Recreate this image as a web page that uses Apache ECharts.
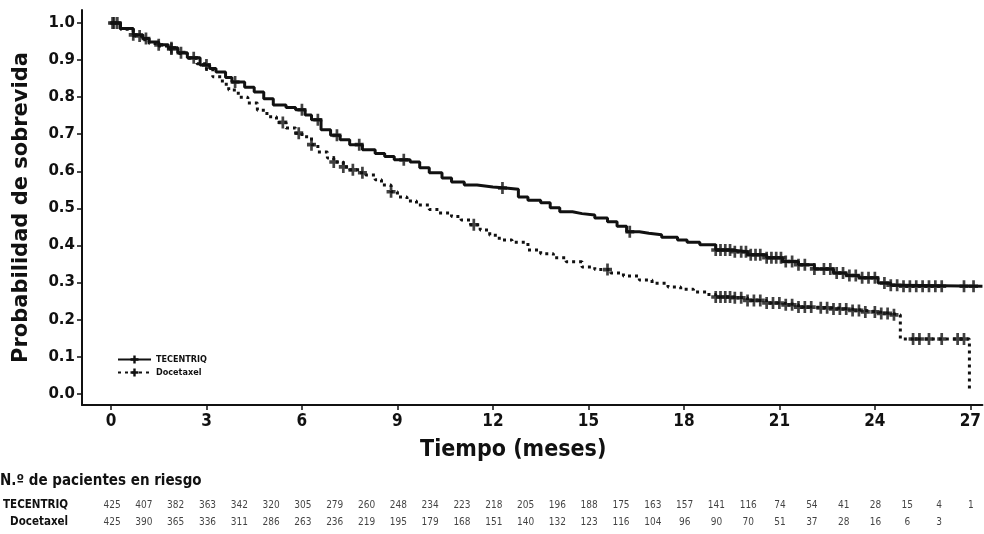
<!DOCTYPE html>
<html>
<head>
<meta charset="utf-8">
<script src="https://cdn.jsdelivr.net/npm/echarts@6/dist/echarts.min.js"></script>
<style>
  html, body { margin: 0; padding: 0; background: #fff; }
  #chart { width: 984px; height: 534px; }
</style>
</head>
<body>
<div id="chart"></div>
<script>
const xTicks = [0, 3, 6, 9, 12, 15, 18, 21, 24, 27];
const yTicks = [0, 0.1, 0.2, 0.3, 0.4, 0.5, 0.6, 0.7, 0.8, 0.9, 1.0];

// Kaplan-Meier curves (months, survival)
const tecTime = [0, 0.3, 0.7, 1.0, 1.2, 1.5, 1.8, 2.1, 2.4, 2.8, 3.1, 3.3, 3.6, 3.8, 4.2, 4.5, 4.8, 5.1, 5.5, 5.8,
    6.1, 6.3, 6.6, 6.9, 7.2, 7.5, 7.9, 8.3, 8.6, 8.9, 9.4, 9.7, 10.0, 10.4, 10.7, 11.1, 11.5, 12.0, 12.4, 12.8,
    13.1, 13.5, 13.8, 14.1, 14.5, 14.8, 15.2, 15.6, 15.9, 16.2, 16.6, 16.9, 17.3, 17.8, 18.1, 18.5, 19.0, 19.5, 20.0, 20.6,
    21.1, 21.6, 22.1, 22.7, 23.1, 23.5, 24.1, 24.5, 24.8, 27.38];
const tecSurv = [1.0, 0.985, 0.968, 0.958, 0.949, 0.941, 0.933, 0.92, 0.906, 0.887, 0.877, 0.868, 0.853, 0.841, 0.827, 0.814, 0.796, 0.779, 0.772, 0.766,
    0.752, 0.739, 0.712, 0.697, 0.685, 0.672, 0.658, 0.648, 0.64, 0.631, 0.625, 0.61, 0.596, 0.582, 0.571, 0.563, 0.558, 0.555, 0.552, 0.531,
    0.522, 0.515, 0.502, 0.491, 0.486, 0.482, 0.474, 0.464, 0.452, 0.437, 0.433, 0.429, 0.422, 0.415, 0.409, 0.402, 0.388, 0.383, 0.375, 0.367,
    0.357, 0.348, 0.337, 0.326, 0.319, 0.313, 0.299, 0.293, 0.29, 0.29];

const doceTime = [0, 0.3, 0.7, 1.0, 1.2, 1.5, 1.8, 2.1, 2.4, 2.7, 3.0, 3.2, 3.5, 3.7, 4.0, 4.3, 4.6, 4.9, 5.2, 5.5,
    5.8, 6.0, 6.3, 6.5, 6.8, 7.0, 7.3, 7.5, 7.8, 8.0, 8.3, 8.5, 8.8, 9.0, 9.3, 9.6, 10.0, 10.3, 10.7, 11.0,
    11.3, 11.6, 11.9, 12.2, 12.6, 13.1, 13.5, 13.9, 14.3, 14.8, 15.2, 15.7, 16.1, 16.6, 17.0, 17.5, 17.9, 18.3, 18.7, 19.0,
    19.5, 20.0, 20.6, 21.1, 21.6, 22.1, 22.7, 23.2, 23.7, 24.1, 24.5, 24.8, 26.97];
const doceSurv = [1.0, 0.983, 0.965, 0.955, 0.945, 0.938, 0.93, 0.918, 0.905, 0.89, 0.875, 0.855, 0.835, 0.819, 0.8, 0.784, 0.765, 0.747, 0.732, 0.717,
    0.703, 0.693, 0.672, 0.652, 0.636, 0.625, 0.612, 0.604, 0.596, 0.59, 0.577, 0.563, 0.545, 0.531, 0.52, 0.509, 0.497, 0.488, 0.478, 0.469,
    0.456, 0.442, 0.428, 0.415, 0.409, 0.388, 0.378, 0.367, 0.356, 0.342, 0.335, 0.326, 0.318, 0.307, 0.298, 0.288, 0.282, 0.275, 0.268, 0.261,
    0.259, 0.252, 0.245, 0.24, 0.234, 0.232, 0.229, 0.225, 0.221, 0.217, 0.213, 0.148, 0.01];

// censoring times (marks sit on the curve)
const tecCensor = [0.05, 0.2, 0.7, 1.1, 1.5, 1.9, 2.2, 2.6, 3.0, 3.9, 6.0, 6.5, 7.1, 7.8, 9.2, 12.3, 16.3,
    19.0, 19.15, 19.3, 19.45, 19.6, 19.8, 19.95, 20.1, 20.25, 20.4, 20.6, 20.75, 20.9, 21.05, 21.2, 21.4, 21.6, 21.8,
    22.1, 22.4, 22.6, 22.8, 23.0, 23.2, 23.4, 23.6, 23.8, 24.0, 24.3, 24.5, 24.7, 24.9, 25.1, 25.3, 25.5, 25.7, 25.9, 26.1, 26.8, 27.1];
const doceCensor = [0.1, 0.9, 1.9, 5.4, 5.9, 6.3, 7.0, 7.3, 7.6, 7.9, 8.8, 11.4, 15.6,
    19.0, 19.15, 19.3, 19.45, 19.6, 19.8, 20.0, 20.2, 20.4, 20.6, 20.8, 21.0, 21.2, 21.4, 21.6, 21.8, 22.0, 22.3,
    22.5, 22.7, 22.9, 23.1, 23.3, 23.5, 23.7, 24.0, 24.2, 24.4, 24.6, 25.2, 25.4, 25.7, 26.1, 26.6, 26.8];

// numbers at risk, month 0..27
const riskMonths = [0, 1, 2, 3, 4, 5, 6, 7, 8, 9, 10, 11, 12, 13, 14, 15, 16, 17, 18, 19, 20, 21, 22, 23, 24, 25, 26, 27];
const tecRisk = [425, 407, 382, 363, 342, 320, 305, 279, 260, 248, 234, 223, 218, 205, 196, 188, 175, 163, 157, 141, 116, 74, 54, 41, 28, 15, 4, 1];
const doceRisk = [425, 390, 365, 336, 311, 286, 263, 236, 219, 195, 179, 168, 151, 140, 132, 123, 116, 104, 96, 90, 70, 51, 37, 28, 16, 6, 3];

const PLUS = "path://M3.5,0H6.5V3.5H10V6.5H6.5V10H3.5V6.5H0V3.5H3.5Z";
const FONT = "'DejaVu Sans', 'Liberation Sans', sans-serif";
const COND = "'DejaVu Sans Condensed', 'Liberation Sans', sans-serif";

function survAt(times, surv, t) {
    let v = surv[0];
    for (let i = 0; i < times.length; i++) {
        if (times[i] <= t) v = surv[i];
    }
    return v;
}

function pairs(times, values) {
    return times.map((t, i) => [t, values[i]]);
}

function censorPoints(times, surv, censor) {
    return censor.map(t => [t, survAt(times, surv, t)]);
}

function riskPoints(row, values) {
    return values.map((n, i) => [riskMonths[i], row, n]);
}

const chart = echarts.init(document.getElementById("chart"));

chart.setOption({
    backgroundColor: "#fff",
    animation: false,
    title: {
        text: "N.º de pacientes en riesgo",
        left: 0,
        top: 474,
        padding: 0,
        textStyle: { fontFamily: COND, fontSize: 15, fontWeight: "bold", color: "#111" }
    },
    legend: {
        data: ["TECENTRIQ", "Docetaxel"],
        orient: "vertical",
        left: 117,
        top: 355,
        padding: 0,
        itemWidth: 33,
        itemHeight: 10,
        itemGap: 4,
        textStyle: { fontFamily: COND, fontSize: 9, fontWeight: "bold", color: "#111" }
    },
    grid: [
        { left: 82, right: 1, top: 10, bottom: 129 },
        { left: 82, right: 1, top: 497, height: 34 }
    ],
    xAxis: [
        {
            type: "value",
            min: -0.91,
            max: 27.38,
            splitLine: { show: false },
            axisLine: { onZero: false, lineStyle: { color: "#111", width: 2 } },
            axisTick: { customValues: xTicks, length: 5, lineStyle: { color: "#111", width: 1.5 } },
            axisLabel: {
                customValues: xTicks,
                margin: 8,
                fontFamily: COND,
                fontSize: 17,
                fontWeight: "bold",
                color: "#111"
            },
            name: "Tiempo (meses)",
            nameLocation: "middle",
            nameGap: 34,
            nameTextStyle: {
                fontFamily: COND,
                fontSize: 23,
                fontWeight: "bold",
                color: "#111",
                padding: [0, 38, 0, 0]
            }
        },
        {
            type: "value",
            gridIndex: 1,
            min: -0.91,
            max: 27.38,
            show: false
        }
    ],
    yAxis: [
        {
            type: "value",
            min: -0.03,
            max: 1.035,
            splitLine: { show: false },
            axisLine: { show: true, onZero: false, lineStyle: { color: "#111", width: 2 } },
            axisTick: { show: true, customValues: yTicks, length: 5, lineStyle: { color: "#111", width: 1.5 } },
            axisLabel: {
                customValues: yTicks,
                formatter: v => v.toFixed(1),
                margin: 7,
                fontFamily: FONT,
                fontSize: 15,
                fontWeight: "bold",
                color: "#111"
            },
            name: "Probabilidad de sobrevida",
            nameLocation: "middle",
            nameGap: 50,
            nameTextStyle: { fontFamily: FONT, fontSize: 21, fontWeight: "bold", color: "#111" }
        },
        {
            type: "category",
            gridIndex: 1,
            inverse: true,
            data: ["TECENTRIQ", "Docetaxel"],
            axisLine: { show: false },
            axisTick: { show: false },
            axisLabel: { margin: 15, fontFamily: COND, fontSize: 11.5, fontWeight: "bold", color: "#111" }
        }
    ],
    series: [
        {
            name: "TECENTRIQ",
            type: "line",
            step: "end",
            showSymbol: false,
            symbol: PLUS,
            symbolSize: [9, 12],
            itemStyle: { color: "#111" },
            lineStyle: { color: "#111", width: 3 },
            data: pairs(tecTime, tecSurv)
        },
        {
            name: "Docetaxel",
            type: "line",
            step: "end",
            showSymbol: false,
            symbol: PLUS,
            symbolSize: [9, 12],
            itemStyle: { color: "#111" },
            lineStyle: { color: "#111", width: 3, type: [3, 4] },
            data: pairs(doceTime, doceSurv)
        },
        {
            type: "scatter",
            symbol: PLUS,
            symbolSize: [9, 12],
            itemStyle: { color: "#111" },
            data: censorPoints(tecTime, tecSurv, tecCensor)
        },
        {
            type: "scatter",
            symbol: PLUS,
            symbolSize: [9, 12],
            itemStyle: { color: "#111" },
            data: censorPoints(doceTime, doceSurv, doceCensor)
        },
        {
            type: "scatter",
            xAxisIndex: 1,
            yAxisIndex: 1,
            symbolSize: 0,
            label: {
                show: true,
                position: "inside",
                formatter: p => p.data[2],
                fontFamily: COND,
                fontSize: 10,
                color: "#111"
            },
            data: riskPoints("TECENTRIQ", tecRisk).concat(riskPoints("Docetaxel", doceRisk))
        }
    ]
});
</script>
</body>
</html>
